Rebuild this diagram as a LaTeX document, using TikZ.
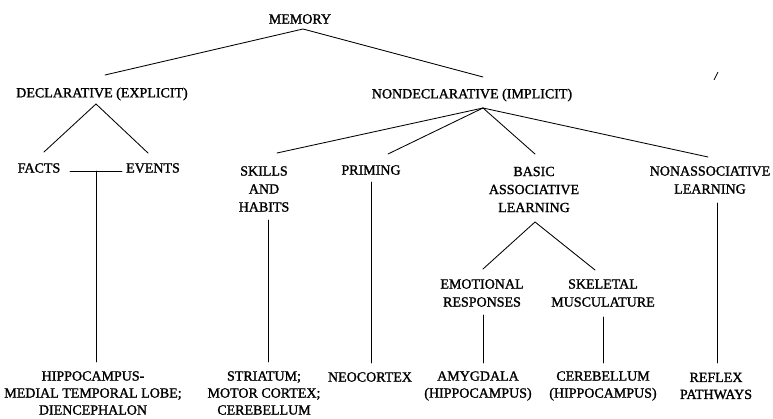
\documentclass[tikz,border=0pt]{standalone}
\usepackage{fontspec}
\setmainfont{Liberation Serif}[BoldFont={Liberation Serif},BoldFeatures={FakeBold=1.4}]
\usetikzlibrary{calc}
\begin{document}
\begin{tikzpicture}[x=1pt,y=-1pt,
  lbl/.style={inner sep=0pt, align=center, font=\fontsize{14}{18}\selectfont\bfseries},
  lblb/.style={inner sep=0pt, align=center, font=\fontsize{14}{17}\selectfont\bfseries},
  conn/.style={line width=0.85pt, line cap=round}]
\fill[white] (0,0) rectangle (773,419);
\useasboundingbox (0,0) rectangle (773,419);

% level 0 / 1
\node[lbl] (mem) at (300,19) {MEMORY};
\node[lbl] (decl) at (102,94) {DECLARATIVE (EXPLICIT)};
\node[lbl] (nondecl) at (472,95) {NONDECLARATIVE (IMPLICIT)};

% level 2
\node[lbl] (facts) at (39,168) {FACTS};
\node[lbl] (events) at (153,168) {EVENTS};
\node[lbl] (skills) at (264,189) {SKILLS\\AND\\HABITS};
\node[lbl] (priming) at (371,170) {PRIMING};
\node[lbl] (basic) at (534,189.5) {BASIC\\ASSOCIATIVE\\LEARNING};
\node[lbl] (nonassoc) at (710,180) {NONASSOCIATIVE\\LEARNING};

% level 3
\node[lbl] (emot) at (482,293) {EMOTIONAL\\RESPONSES};
\node[lbl] (skel) at (603,293) {SKELETAL\\MUSCULATURE};

% bottom
\node[lblb] (hippo) at (93,393) {HIPPOCAMPUS-\\MEDIAL TEMPORAL LOBE;\\DIENCEPHALON};
\node[lblb] (striatum) at (264,393) {STRIATUM;\\MOTOR CORTEX;\\CEREBELLUM};
\node[lblb] (neo) at (370,377) {NEOCORTEX};
\node[lblb] (amyg) at (478,386) {AMYGDALA\\(HIPPOCAMPUS)};
\node[lblb] (cereb) at (603,386) {CEREBELLUM\\(HIPPOCAMPUS)};
\node[lblb] (reflex) at (716,386) {REFLEX\\PATHWAYS};

% connectors
\draw[conn] ($(decl)+(3,-19)$) -- ($(mem)+(3,10)$) -- ($(nondecl)+(11,-18)$);
\draw[conn] ($(facts)+(5,-16)$) -- ($(decl)+(-6,10)$) -- ($(events)+(-5,-15)$);
\draw[conn] ($(facts)+(31,3)$) -- ($(events)+(-31,3)$);
\draw[conn] ($($(facts)!0.5!(events)$)+(0,3)$) -- ($(hippo)+(3,-31)$);

\draw[conn] ($(nondecl)+(11,13)$) -- ($(skills)+(13,-36)$);
\draw[conn] ($(nondecl)+(11,13)$) -- ($(priming)+(17,-16)$);
\draw[conn] ($(nondecl)+(11,13)$) -- ($(basic)+(1,-35.5)$);
\draw[conn] ($(nondecl)+(11,13)$) -- ($(nonassoc)+(-2,-23)$);

\draw[conn] ($(skills)+(4,31)$) -- ($(striatum)+(4,-31)$);
\draw[conn] ($(priming)+(0,12)$) -- ($(neo)+(1,-14)$);
\draw[conn] ($(emot)+(1,-24)$) -- ($(basic)+(1,32.5)$) -- ($(skel)+(-8,-23)$);
\draw[conn] ($(emot)+(1,22)$) -- ($(amyg)+(5,-23)$);
\draw[conn] ($(skel)+(0,24)$) -- ($(cereb)+(0,-23)$);
\draw[conn] ($(nonassoc)+(7,23)$) -- ($(reflex)+(1,-23)$);

% stray mark
\draw[line width=0.8pt] (714,80) -- (718,72);
\end{tikzpicture}
\end{document}
